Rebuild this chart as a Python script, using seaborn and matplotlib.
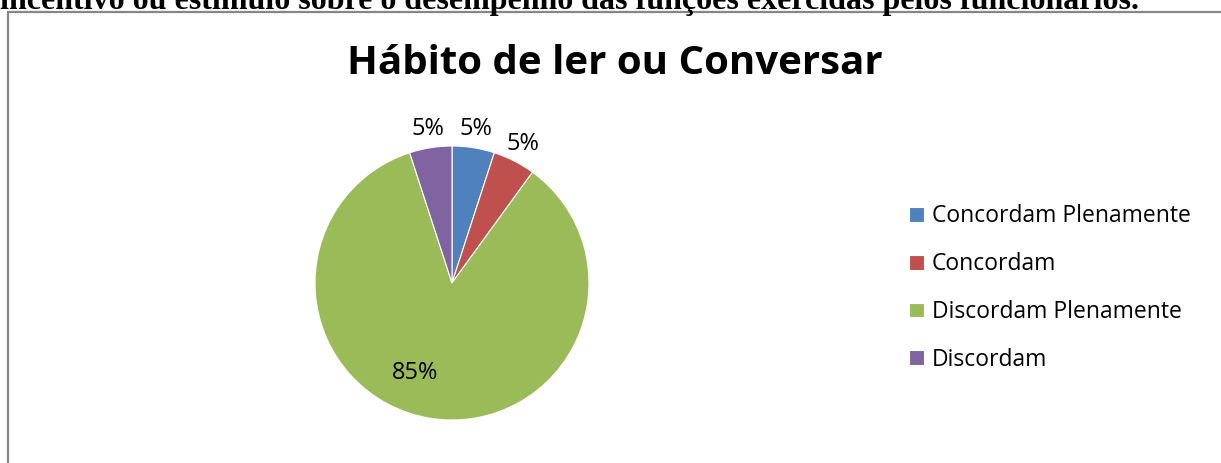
import matplotlib
matplotlib.use("Agg")
import matplotlib.pyplot as plt
from matplotlib.patches import Rectangle
import numpy as np
import seaborn as sns

categories = ["Concordam Plenamente", "Concordam", "Discordam Plenamente", "Discordam"]
shares = [5, 5, 85, 5]
value_labels = ["5%", "5%", "85%", "5%"]
slice_colors = ["#4F81BD", "#C0504D", "#9BBB59", "#8064A2"]
chart_title = "Hábito de ler ou Conversar"
caption = "incentivo ou estímulo sobre o desempenho das funções exercidas pelos funcionários."

sns.set_theme(style="white")
sns.set_palette(slice_colors)
plt.rcParams["font.family"] = ["Open Sans", "DejaVu Sans"]
plt.rcParams["text.color"] = "black"

W, H = 1221, 463
fig = plt.figure(figsize=(W / 100, H / 100), dpi=100)
fig.patch.set_facecolor("white")

# caption line above the chart frame (partly cut off by the page edge)
fig.text(0 / W, 1 - 9 / H, caption, family="Liberation Serif", weight="bold",
         fontsize=23, ha="left", va="baseline", color="black")

# chart frame
fig.add_artist(Rectangle((8 / W, -0.1), 1.2, (H - 12) / H + 0.1,
                         transform=fig.transFigure, fill=False,
                         edgecolor="#868686", linewidth=1.6))

# pie axes: centre (452, 283) px, radius 137 px
R = 137.0
half = 1.25
cx, cy = 452, H - 283
side = 2 * half * R
ax = fig.add_axes([(cx - side / 2) / W, (cy - side / 2) / H, side / W, side / H])
wedges, _ = ax.pie(shares, colors=sns.color_palette(), startangle=90,
                   counterclock=False, radius=1,
                   wedgeprops=dict(edgecolor="white", linewidth=0.8))
ax.set_xlim(-half, half)
ax.set_ylim(-half, half)
ax.set_aspect("equal")
ax.axis("off")

for w, lab, v in zip(wedges, value_labels, shares):
    mid = np.deg2rad((w.theta1 + w.theta2) / 2)
    if v >= 50:
        ang, r = np.deg2rad(-112), 0.71
    else:
        ang, r = mid, 1.14
    ax.text(r * np.cos(ang), r * np.sin(ang), lab, ha="center", va="center",
            fontsize=17, color="black")

fig.text(615 / W, 1 - 64 / H, chart_title, ha="center", va="center",
         fontsize=29, weight="bold", color="black")

leg = fig.legend(wedges, categories, loc="upper left",
                 bbox_to_anchor=(898 / W, 1 - 193 / H), frameon=False,
                 fontsize=16.5, handlelength=0.62, handleheight=0.62,
                 handletextpad=0.35, labelspacing=1.04, borderpad=0)
for t in leg.get_texts():
    t.set_color("black")

fig.savefig("out.png", dpi=100, facecolor="white")
